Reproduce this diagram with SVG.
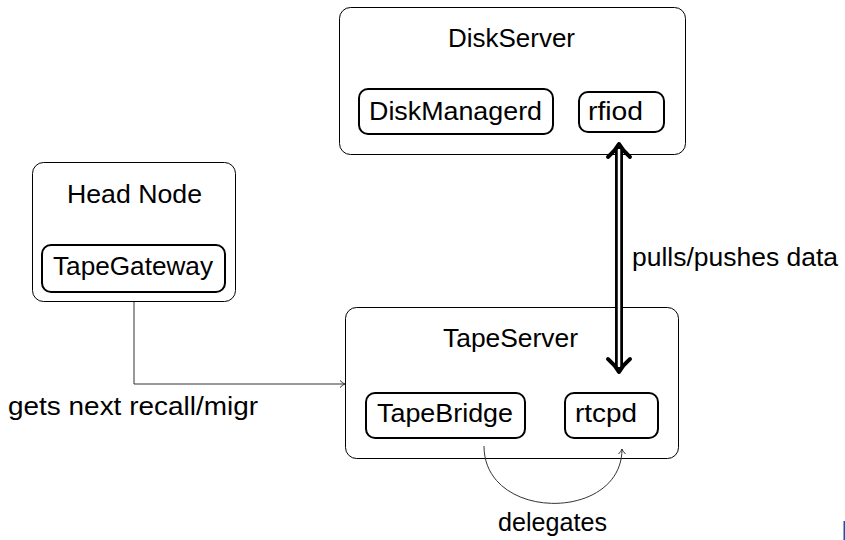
<svg xmlns="http://www.w3.org/2000/svg" width="845" height="540" viewBox="0 0 845 540">
<style>
.outer{fill:#fff;stroke:#000;stroke-width:1}
.inner{fill:#fff;stroke:#000;stroke-width:2}
text{font-family:"Liberation Sans","DejaVu Sans",sans-serif;font-size:25px;fill:#000}
.conn{fill:none;stroke:#333;stroke-width:1}
</style>
<defs>
<marker id="small" markerWidth="10" markerHeight="10" refX="8" refY="5" orient="auto" markerUnits="userSpaceOnUse">
<path d="M3,1.5 Q6,4.5 8,5 Q6,5.5 3,8.5" fill="none" stroke="#333" stroke-width="1"/>
</marker>
</defs>
<rect x="0" y="0" width="845" height="540" fill="#fff"/>
<g id="diskserver">
<rect class="outer" x="339.5" y="7.5" width="346" height="147" rx="11"/>
<text x="448" y="47" textLength="127" lengthAdjust="spacingAndGlyphs">DiskServer</text>
</g>
<g id="diskmanagerd">
<rect class="inner" x="359" y="89" width="194" height="45" rx="9"/>
<text x="369" y="120" textLength="173" lengthAdjust="spacingAndGlyphs">DiskManagerd</text>
</g>
<g id="rfiod">
<rect class="inner" x="579" y="92" width="85" height="40" rx="9"/>
<text x="588" y="120" textLength="55" lengthAdjust="spacingAndGlyphs">rfiod</text>
</g>
<g id="headnode">
<rect class="outer" x="32.5" y="162.5" width="203" height="139" rx="11"/>
<text x="67" y="203" textLength="135" lengthAdjust="spacingAndGlyphs">Head Node</text>
</g>
<g id="tapegateway">
<rect class="inner" x="42" y="245" width="183" height="47" rx="9"/>
<text x="53" y="275" textLength="160" lengthAdjust="spacingAndGlyphs">TapeGateway</text>
</g>
<g id="tapeserver">
<rect class="outer" x="345.5" y="307.5" width="333" height="151" rx="11"/>
<text x="443" y="347" textLength="135" lengthAdjust="spacingAndGlyphs">TapeServer</text>
</g>
<g id="tapebridge">
<rect class="inner" x="366" y="393" width="159" height="45" rx="9"/>
<text x="377" y="422" textLength="136" lengthAdjust="spacingAndGlyphs">TapeBridge</text>
</g>
<g id="rtcpd">
<rect class="inner" x="565" y="393" width="93" height="45" rx="9"/>
<text x="575" y="422" textLength="62" lengthAdjust="spacingAndGlyphs">rtcpd</text>
</g>
<g id="connectors">
<path class="conn" d="M134,302 V384 H345" marker-end="url(#small)"/>
<path class="conn" d="M484,446 C484,522 622,522 622,449" marker-end="url(#small)"/>
<line x1="619" y1="147" x2="619" y2="369" stroke="#000" stroke-width="8"/>
<line x1="619" y1="149" x2="619" y2="367" stroke="#fff" stroke-width="2.5"/>
<path d="M608,157 Q615,151 619,144 Q623,151 630,157" fill="none" stroke="#000" stroke-width="4" stroke-linecap="round" stroke-linejoin="round"/>
<path d="M608,359 Q615,365 619,372 Q623,365 630,359" fill="none" stroke="#000" stroke-width="4" stroke-linecap="round" stroke-linejoin="round"/>
<text x="632" y="266" textLength="206" lengthAdjust="spacingAndGlyphs">pulls/pushes data</text>
<text x="8" y="415" textLength="250" lengthAdjust="spacingAndGlyphs">gets next recall/migr</text>
<text x="498" y="531" textLength="109" lengthAdjust="spacingAndGlyphs">delegates</text>
</g>
<rect x="843.5" y="521" width="1.5" height="19" fill="#1f4fa8"/>
</svg>
